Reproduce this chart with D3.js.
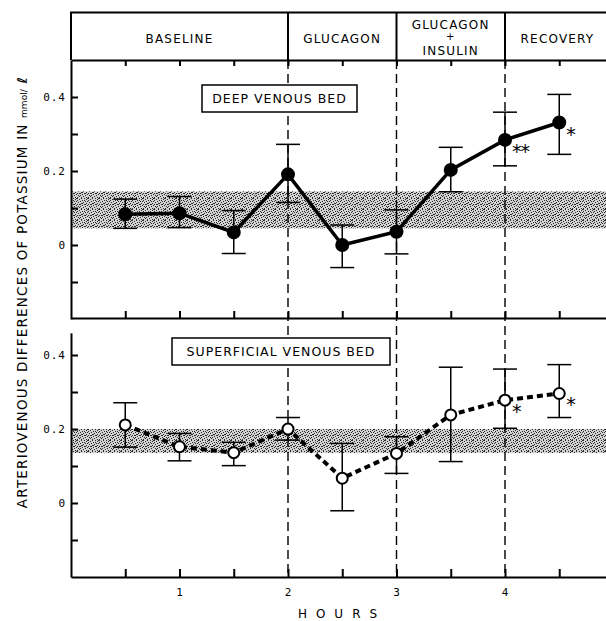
<!DOCTYPE html>
<html>
<head>
<meta charset="utf-8">
<script src="https://cdn.jsdelivr.net/npm/d3@7"></script>
<style>
  body { margin: 0; background: #fff; }
  text { font-family: "DejaVu Sans", sans-serif; fill: #000; }
</style>
</head>
<body>
<div id="chart"></div>
<script>
// hours of the study, every half hour
const hours = [0.5, 1, 1.5, 2, 2.5, 3, 3.5, 4, 4.5];

// deep venous bed (mean, upper and lower end of the bar)
const deepMean  = [0.083, 0.086, 0.034, 0.191, 0.000, 0.036, 0.203, 0.284, 0.331];
const deepUpper = [0.124, 0.131, 0.093, 0.272, 0.054, 0.095, 0.264, 0.359, 0.407];
const deepLower = [0.045, 0.047, -0.023, 0.115, -0.061, -0.024, 0.144, 0.214, 0.245];

// superficial venous bed
const supMean  = [0.211, 0.152, 0.136, 0.200, 0.067, 0.134, 0.238, 0.278, 0.296];
const supUpper = [0.271, 0.188, 0.164, 0.231, 0.161, 0.179, 0.367, 0.362, 0.374];
const supLower = [0.151, 0.114, 0.101, 0.170, -0.021, 0.080, 0.112, 0.202, 0.231];

// shaded normal ranges
const deepBand = [0.045, 0.145];
const supBand = [0.135, 0.200];

// significance marks
const deepStars = [{h: 4, s: "**"}, {h: 4.5, s: "*"}];
const supStars = [{h: 4, s: "*"}, {h: 4.5, s: "*"}];

// phases in the header
const phaseNames = [["BASELINE"], ["GLUCAGON"], ["GLUCAGON", "+", "INSULIN"], ["RECOVERY"]];
const phaseStart = [0, 2, 3, 4];
const phaseEnd = [2, 3, 4, 5];
const phaseBreaks = [2, 3, 4];

const yTicks = [-0.1, 0, 0.1, 0.2, 0.3, 0.4];
const yLabelled = [0, 0.2, 0.4];
const hourLabels = [1, 2, 3, 4];

const W = 606, H = 621;

const svg = d3.select("#chart").append("svg")
    .attr("width", W)
    .attr("height", H);

const x = d3.scaleLinear().domain([0, 5]).range([71, 613.5]);
const yDeep = d3.scaleLinear().domain([-0.2, 0.5]).range([319, 60]);
const ySup = d3.scaleLinear().domain([-0.2, 0.46]).range([577, 332.8]);

// stipple pattern for the normal range (hand placed dots, 11x11 tile)
const dots = [
    [0,0],[4,0],[7,0],[9,1],[2,1],[5,2],[0,2],[8,3],[3,3],[10,3],[1,4],[6,4],
    [4,5],[9,5],[0,6],[7,6],[2,6],[5,7],[10,7],[3,8],[8,8],[1,8],[6,9],[0,10],
    [4,10],[9,10],[7,2],[2,9],[10,0],[5,5],[8,6],[3,6]
];
const pat = svg.append("defs").append("pattern")
    .attr("id", "stipple")
    .attr("width", 11).attr("height", 11)
    .attr("patternUnits", "userSpaceOnUse");
pat.append("rect").attr("width", 11).attr("height", 11).attr("fill", "#d2d2d2");
dots.forEach(p => {
    pat.append("rect").attr("x", p[0]).attr("y", p[1])
        .attr("width", 1).attr("height", 1).attr("fill", "#2a2a2a");
});

// bands
svg.append("rect")
    .attr("x", x(0)).attr("width", W - x(0))
    .attr("y", yDeep(deepBand[1]))
    .attr("height", yDeep(deepBand[0]) - yDeep(deepBand[1]))
    .attr("fill", "url(#stipple)");
svg.append("rect")
    .attr("x", x(0)).attr("width", W - x(0))
    .attr("y", ySup(supBand[1]))
    .attr("height", ySup(supBand[0]) - ySup(supBand[1]))
    .attr("fill", "url(#stipple)");

// header
const headTop = 12.5, headBottom = yDeep(0.5);
const head = svg.append("g");
head.append("path")
    .attr("d", `M${W + 5},${headTop}H${x(0)}V${headBottom}`)
    .attr("fill", "none").attr("stroke", "#000").attr("stroke-width", 2);
head.selectAll("line.div")
    .data(phaseBreaks)
    .enter().append("line")
    .attr("x1", d => x(d)).attr("x2", d => x(d))
    .attr("y1", headTop).attr("y2", headBottom)
    .attr("stroke", "#000").attr("stroke-width", 2);

phaseNames.forEach((lines, i) => {
    const cx = (x(phaseStart[i]) + Math.min(x(phaseEnd[i]), W + 4)) / 2;
    const t = head.append("text")
        .attr("text-anchor", "middle")
        .style("font-size", "12px")
        .style("letter-spacing", "1.2px");
    if (lines.length === 1) {
        t.attr("x", cx).attr("y", 43).text(lines[0]);
    } else {
        t.append("tspan").attr("x", cx).attr("y", 29).text(lines[0]);
        t.append("tspan").attr("x", cx).attr("y", 40).style("font-size", "10px").text(lines[1]);
        t.append("tspan").attr("x", cx).attr("y", 55).text(lines[2]);
    }
});

// dashed phase lines through both panels
svg.selectAll("line.phase")
    .data(phaseBreaks)
    .enter().append("line")
    .attr("class", "phase")
    .attr("x1", d => x(d)).attr("x2", d => x(d))
    .attr("y1", headBottom).attr("y2", ySup(-0.2))
    .attr("stroke", "#000").attr("stroke-width", 1.4)
    .attr("stroke-dasharray", "9,5");

function styleAxis(g) {
    g.selectAll("path.domain").attr("stroke-width", 2);
    g.selectAll(".tick line").attr("stroke-width", 2);
    g.selectAll(".tick text")
        .style("font-family", "'DejaVu Sans Mono', monospace")
        .style("font-size", "11px")
        .style("letter-spacing", "1px");
}

const halfHours = hours.slice();
const yFmt = d => (yLabelled.includes(Math.round(d * 10) / 10) ? (d === 0 ? "0" : d3.format(".1f")(d)) : "");

// top panel axes
svg.append("g")
    .attr("transform", `translate(${x(0)},0)`)
    .call(d3.axisLeft(yDeep).tickValues(yTicks).tickSizeInner(-7).tickSizeOuter(0).tickPadding(5).tickFormat(yFmt))
    .call(styleAxis);
svg.append("g")
    .attr("transform", `translate(0,${headBottom})`)
    .call(d3.axisTop(x).tickValues(halfHours).tickSizeInner(-6).tickSizeOuter(0).tickFormat(""))
    .call(styleAxis);
svg.append("g")
    .attr("transform", `translate(0,${yDeep(-0.2) - 1})`)
    .call(d3.axisBottom(x).tickValues(halfHours).tickSizeInner(-7).tickSizeOuter(0).tickFormat(""))
    .call(styleAxis);

// bottom panel axes
svg.append("g")
    .attr("transform", `translate(${x(0)},0)`)
    .call(d3.axisLeft(ySup).tickValues(yTicks).tickSizeInner(-7).tickSizeOuter(0).tickPadding(5).tickFormat(yFmt))
    .call(styleAxis);
svg.append("g")
    .attr("transform", `translate(0,${ySup(-0.2)})`)
    .call(d3.axisBottom(x).tickValues(halfHours).tickSizeInner(-8).tickSizeOuter(0).tickPadding(11)
        .tickFormat(d => (hourLabels.includes(d) ? String(d) : "")))
    .call(styleAxis);

// panel labels
function labelBox(cx, cy, w, txt) {
    svg.append("rect")
        .attr("x", cx - w / 2).attr("y", cy - 13.5)
        .attr("width", w).attr("height", 27)
        .attr("fill", "#fff").attr("stroke", "#000").attr("stroke-width", 1.5);
    svg.append("text")
        .attr("x", cx).attr("y", cy + 4.5)
        .attr("text-anchor", "middle")
        .style("font-size", "12.5px")
        .style("letter-spacing", "1px")
        .text(txt);
}
labelBox(279.5, 98.5, 155, "DEEP VENOUS BED");
labelBox(281, 351.5, 218, "SUPERFICIAL VENOUS BED");

// series
function drawSeries(y, mean, upper, lower, filled, stars) {
    const g = svg.append("g");
    const rows = hours.map((h, i) => ({h: h, m: mean[i], u: upper[i], l: lower[i]}));

    const bars = g.selectAll("g.bar").data(rows).enter().append("g").attr("class", "bar");
    bars.append("line")
        .attr("x1", d => x(d.h)).attr("x2", d => x(d.h))
        .attr("y1", d => y(d.u)).attr("y2", d => y(d.l));
    bars.append("line")
        .attr("x1", d => x(d.h) - 12).attr("x2", d => x(d.h) + 12)
        .attr("y1", d => y(d.u)).attr("y2", d => y(d.u));
    bars.append("line")
        .attr("x1", d => x(d.h) - 12).attr("x2", d => x(d.h) + 12)
        .attr("y1", d => y(d.l)).attr("y2", d => y(d.l));
    bars.selectAll("line").attr("stroke", "#000").attr("stroke-width", 1.5);

    const line = d3.line().x(d => x(d.h)).y(d => y(d.m));
    g.append("path")
        .datum(rows)
        .attr("d", line)
        .attr("fill", "none")
        .attr("stroke", "#000")
        .attr("stroke-width", filled ? 3.5 : 4)
        .attr("stroke-dasharray", filled ? null : "6,4");

    g.selectAll("circle").data(rows).enter().append("circle")
        .attr("cx", d => x(d.h)).attr("cy", d => y(d.m))
        .attr("r", filled ? 6 : 5.5)
        .attr("fill", filled ? "#000" : "#fff")
        .attr("stroke", "#000")
        .attr("stroke-width", 2);

    g.selectAll("text.star").data(stars).enter().append("text")
        .attr("class", "star")
        .attr("x", d => x(d.h) + 7)
        .attr("y", d => y(mean[hours.indexOf(d.h)]) + 18)
        .style("font-size", "19px")
        .style("letter-spacing", "-1px")
        .text(d => d.s);
}

drawSeries(yDeep, deepMean, deepUpper, deepLower, true, deepStars);
drawSeries(ySup, supMean, supUpper, supLower, false, supStars);

// axis titles
svg.append("text")
    .attr("x", 342).attr("y", 618)
    .attr("text-anchor", "middle")
    .style("font-size", "12px")
    .style("letter-spacing", "9px")
    .text("HOURS");

const yt = svg.append("text")
    .attr("transform", "translate(27,292) rotate(-90)")
    .attr("text-anchor", "middle")
    .style("font-size", "13.5px")
    .style("letter-spacing", "1.2px");
yt.append("tspan").text("ARTERIOVENOUS DIFFERENCES OF POTASSIUM IN ");
yt.append("tspan").style("font-size", "9px").style("letter-spacing", "0px").text("mmol/");
yt.append("tspan").style("font-weight", "bold").style("font-style", "italic").text(" ℓ");
</script>
</body>
</html>
